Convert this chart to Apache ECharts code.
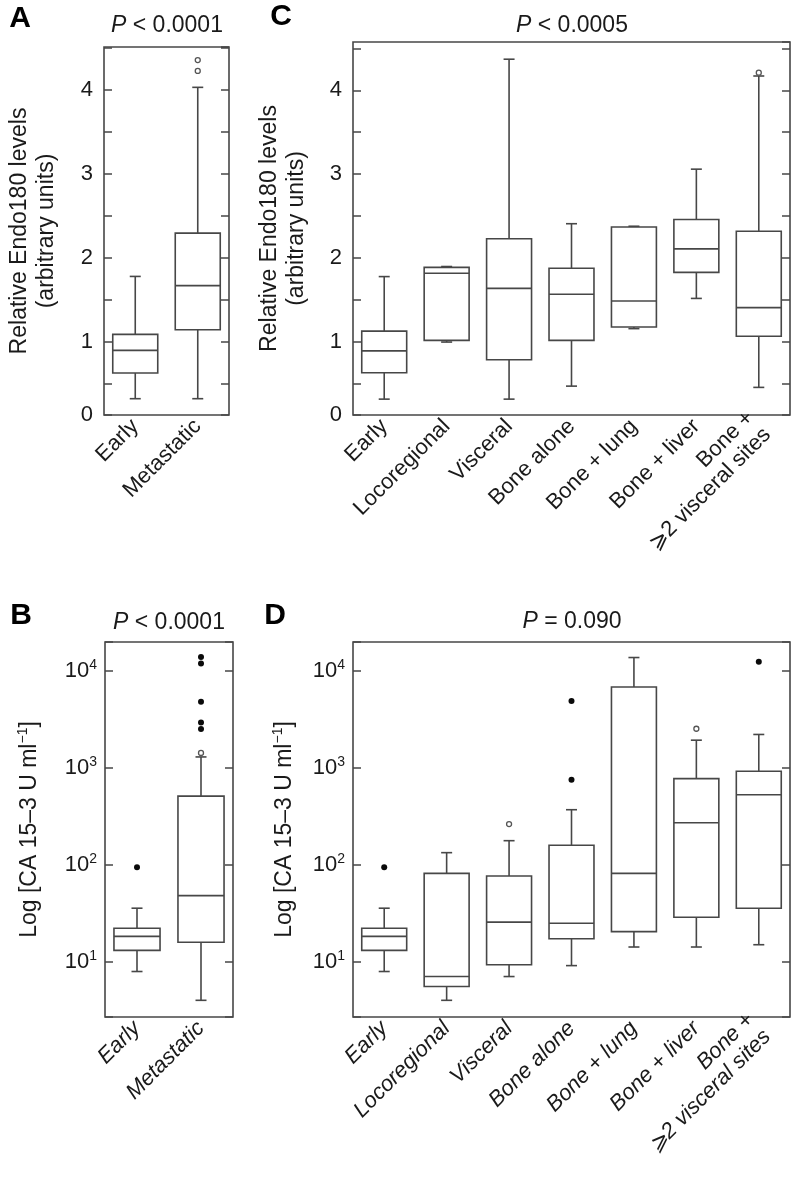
<!DOCTYPE html>
<html><head><meta charset="utf-8">
<script src="https://cdn.jsdelivr.net/npm/echarts@6/dist/echarts.min.js"></script>
<style>html,body{margin:0;padding:0;background:#fff}#c{width:796px;height:1182px}</style>
</head><body><div id="c"></div>
<script>
// ---------- data ----------
const catsAB = ['Early', 'Metastatic'];
const catsCD = ['Early', 'Locoregional', 'Visceral', 'Bone alone', 'Bone + lung', 'Bone + liver', 'Bone +\n\u2A7E2 visceral sites'];
const panelLetters = ['A', 'C', 'B', 'D'];
const pTitles = ['{i|P} < 0.0001', '{i|P} < 0.0005', '{i|P} < 0.0001', '{i|P} = 0.090'];
const yNameEndo = 'Relative Endo180 levels\n(arbitrary units)';
const yNameCA = 'Log [CA 15\u20133 U ml{sup|\u22121}]';
const linTickLabels = ['0', '1', '2', '3', '4'];
const logTickExponents = [1, 2, 3, 4];

// boxes: [min whisker, Q1, median, Q3, max whisker]
const boxA = [[0.325, 0.63, 0.90, 1.09, 1.78], [0.325, 1.145, 1.67, 2.295, 4.03]];
const openA = [[1, 4.225], [1, 4.355]];
const boxC = [
  [0.32, 0.634, 0.895, 1.13, 1.78],
  [1.00, 1.02, 1.82, 1.89, 1.90],
  [0.32, 0.79, 1.64, 2.23, 4.37],
  [0.475, 1.02, 1.57, 1.88, 2.41],
  [1.16, 1.18, 1.49, 2.37, 2.38],
  [1.52, 1.83, 2.11, 2.46, 3.06],
  [0.46, 1.07, 1.41, 2.32, 4.17]];
const openC = [[6, 4.21]];
const boxB = [[8.0, 13.2, 18.4, 22.3, 35.9], [4.04, 16.0, 48.4, 512, 1297]];
const filledB = [[0, 94.6], [1, 13900], [1, 11900], [1, 4810], [1, 2930], [1, 2510]];
const openB = [[1, 1425]];
const boxD = [
  [8.0, 13.2, 18.4, 22.3, 35.9],
  [4.04, 5.6, 7.1, 82, 134],
  [7.1, 9.4, 25.8, 77, 178],
  [9.2, 17.4, 25.1, 160, 371],
  [14.3, 20.6, 82, 6820, 13700],
  [14.3, 29, 272, 776, 1930],
  [15.1, 35.9, 530, 924, 2210]];
const filledD = [[0, 94.6], [3, 4900], [3, 757], [6, 12400]];
const openD = [[2, 264], [5, 2530]];

// ---------- styling ----------
const LINE = '#474747';
const TXT = '#1a1a1a';
const FONT = '"Liberation Sans", Arial, Helvetica, sans-serif';
const TICK_FS = 22, NAME_FS = 23, CAT_FS = 22, TITLE_FS = 23;

const grids = [
  {left: 104, top: 47, width: 125, height: 368},
  {left: 353, top: 42, width: 437, height: 373},
  {left: 105, top: 642, width: 128, height: 375},
  {left: 353, top: 642, width: 437, height: 375}
].map(g => Object.assign({show: true, borderColor: LINE, borderWidth: 1.6, containLabel: false}, g));

function linFormatter(v) {
  if (v < 0.25) return linTickLabels[0];
  const r = Math.round(v);
  return (Math.abs(v - r) < 1e-6 && r >= 1 && r < linTickLabels.length) ? linTickLabels[r] : '';
}
function logFormatter(v) {
  const e = Math.log10(v); const r = Math.round(e);
  return (Math.abs(e - r) < 1e-6 && logTickExponents.indexOf(r) >= 0) ? '10{sup|' + r + '}' : '';
}
const supStyle = {fontSize: 14, color: TXT, fontFamily: FONT, verticalAlign: 'top', lineHeight: 14};

function xAxis(gi, cats, italic) {
  return {
    type: 'category', gridIndex: gi, data: cats,
    axisLine: {show: false}, axisTick: {show: false},
    axisLabel: {interval: 0, rotate: 45, margin: 8, fontSize: CAT_FS, color: TXT, fontFamily: FONT,
      fontStyle: italic ? 'italic' : 'normal', lineHeight: 24}
  };
}
const tickStyle = {show: true, inside: true, length: 8, lineStyle: {color: LINE, width: 1.5}};
function yLin(gi, max, right, gap) {
  return {
    type: 'value', gridIndex: gi, min: 0.131, max: max, splitNumber: 9, position: right ? 'right' : 'left',
    splitLine: {show: false}, axisLine: {show: false}, axisTick: tickStyle,
    axisLabel: right ? {show: false} : {show: true, showMinLabel: true, showMaxLabel: false, formatter: linFormatter,
      fontSize: TICK_FS, color: TXT, fontFamily: FONT, margin: 11},
    name: right ? '' : yNameEndo, nameLocation: 'middle', nameGap: gap, nameRotate: 90,
    nameTextStyle: {fontSize: NAME_FS, color: TXT, fontFamily: FONT, lineHeight: 27}
  };
}
function yLog(gi, right, gap) {
  return {
    type: 'log', logBase: 10, gridIndex: gi, min: 2.72, max: 19800, position: right ? 'right' : 'left',
    splitLine: {show: false}, axisLine: {show: false}, axisTick: tickStyle, minorTick: {show: false},
    axisLabel: right ? {show: false} : {show: true, formatter: logFormatter, fontSize: TICK_FS, color: TXT,
      fontFamily: FONT, margin: 8, lineHeight: 26, rich: {sup: supStyle}},
    name: right ? '' : yNameCA, nameLocation: 'middle', nameGap: gap, nameRotate: 90,
    nameTextStyle: {fontSize: NAME_FS, color: TXT, fontFamily: FONT, lineHeight: 27, rich: {sup: supStyle}}
  };
}

function boxRender(params, api) {
  const x = api.value(0);
  const lo = api.coord([x, api.value(1)]);
  const q1 = api.coord([x, api.value(2)]);
  const md = api.coord([x, api.value(3)]);
  const q3 = api.coord([x, api.value(4)]);
  const hi = api.coord([x, api.value(5)]);
  const bw = api.size([1, 0])[0] * 0.72;
  const cx = lo[0], half = bw / 2, cap = 5.5;
  const st = {stroke: LINE, lineWidth: 1.6, fill: null};
  return {type: 'group', children: [
    {type: 'line', shape: {x1: cx, y1: q3[1], x2: cx, y2: hi[1]}, style: st},
    {type: 'line', shape: {x1: cx, y1: q1[1], x2: cx, y2: lo[1]}, style: st},
    {type: 'line', shape: {x1: cx - cap, y1: hi[1], x2: cx + cap, y2: hi[1]}, style: st},
    {type: 'line', shape: {x1: cx - cap, y1: lo[1], x2: cx + cap, y2: lo[1]}, style: st},
    {type: 'rect', shape: {x: cx - half, y: q3[1], width: bw, height: q1[1] - q3[1]}, style: {stroke: LINE, lineWidth: 1.6, fill: '#fff'}},
    {type: 'line', shape: {x1: cx - half, y1: md[1], x2: cx + half, y2: md[1]}, style: st}
  ]};
}
function boxSeries(gi, boxes) {
  return {type: 'custom', xAxisIndex: gi, yAxisIndex: gi * 2, renderItem: boxRender,
    encode: {x: 0, y: [1, 2, 3, 4, 5]}, data: boxes.map((b, i) => [i].concat(b)), silent: true, z: 2};
}
function ptSeries(gi, pts, filled) {
  return {type: 'scatter', xAxisIndex: gi, yAxisIndex: gi * 2, data: pts, symbol: 'circle',
    symbolSize: filled ? 6 : 5,
    itemStyle: filled ? {color: '#0a0a0a', opacity: 1} : {color: '#fff', borderColor: '#555', borderWidth: 1.3, opacity: 1},
    silent: true, z: 3};
}

const textCommon = {fill: TXT, font: TITLE_FS + 'px ' + FONT, align: 'center', verticalAlign: 'middle'};
const titlePos = [[167, 26], [572, 26], [169, 623], [572, 622]];
const letterPos = [[20, 19], [281, 17], [21, 616], [275, 616]];
const graphics = [];
pTitles.forEach((t, i) => graphics.push({type: 'text', x: titlePos[i][0], y: titlePos[i][1],
  style: Object.assign({}, textCommon, {text: t, rich: {i: {fontStyle: 'italic', fontSize: TITLE_FS, fontFamily: FONT, fill: TXT}}})}));
panelLetters.forEach((t, i) => graphics.push({type: 'text', x: letterPos[i][0], y: letterPos[i][1],
  style: {text: t, fill: '#000', font: 'bold 30px ' + FONT, align: 'center', verticalAlign: 'middle'}}));

const option = {
  animation: false,
  backgroundColor: '#fff',
  grid: grids,
  xAxis: [xAxis(0, catsAB, false), xAxis(1, catsCD, false), xAxis(2, catsAB, true), xAxis(3, catsCD, true)],
  yAxis: [yLin(0, 4.51, false, 44), yLin(0, 4.51, true, 0), yLin(1, 4.575, false, 43), yLin(1, 4.575, true, 0),
          yLog(2, false, 62), yLog(2, true, 0), yLog(3, false, 55), yLog(3, true, 0)],
  series: [
    boxSeries(0, boxA), ptSeries(0, openA, false),
    boxSeries(1, boxC), ptSeries(1, openC, false),
    boxSeries(2, boxB), ptSeries(2, filledB, true), ptSeries(2, openB, false),
    boxSeries(3, boxD), ptSeries(3, filledD, true), ptSeries(3, openD, false)
  ],
  graphic: graphics
};
const chart = echarts.init(document.getElementById('c'), null, {renderer: 'canvas'});
chart.setOption(option);
</script>
</body></html>
